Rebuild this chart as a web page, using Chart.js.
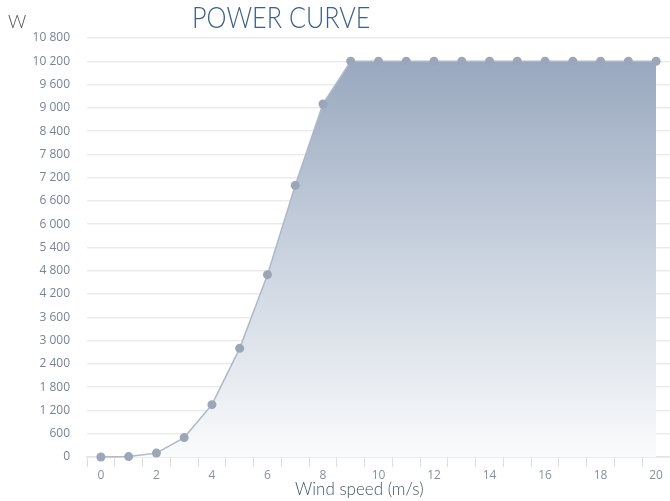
<!DOCTYPE html>
<html>
<head>
<meta charset="utf-8">
<script src="https://cdn.jsdelivr.net/npm/chart.js@4/dist/chart.umd.min.js"></script>
<style>
  html, body { margin: 0; padding: 0; background: #fff; }
  #wrap { position: relative; width: 670px; height: 501px; }
  #title {
    position: absolute; left: 192px; top: -1px;
    font-family: Lato, sans-serif; font-weight: 300; font-size: 29px;
    color: #3d5f86; transform: scaleX(0.87); transform-origin: left top;
    white-space: nowrap;
  }
  #unit {
    position: absolute; left: 8px; top: 10px;
    font-family: Lato, sans-serif; font-weight: 300; font-size: 18px; color: #555;
  }
  #xtitle {
    position: absolute; left: 295px; top: 478px;
    font-family: Lato, sans-serif; font-weight: 300; font-size: 17px; color: #44546c;
    white-space: nowrap;
  }
</style>
</head>
<body>
<div id="wrap">
  <canvas id="powerChart" width="670" height="501"></canvas>
  <div id="title">POWER CURVE</div>
  <div id="unit">W</div>
  <div id="xtitle">Wind speed (m/s)</div>
</div>
<script>
const windSpeeds = ['0','1','2','3','4','5','6','7','8','9','10','11','12','13','14','15','16','17','18','19','20'];
const powerValues = [0, 10, 100, 500, 1350, 2800, 4700, 7000, 9100, 10200, 10200, 10200, 10200, 10200, 10200, 10200, 10200, 10200, 10200, 10200, 10200];
const yMax = 10800;
const yStep = 600;

const fmt = v => v.toString().replace(/\B(?=(\d{3})+(?!\d))/g, ' ');

const ctx = document.getElementById('powerChart').getContext('2d');

const chart = new Chart(ctx, {
    type: 'line',
    data: {
        labels: windSpeeds,
        datasets: [{
            data: powerValues,
            borderColor: '#b0b8c8',
            borderWidth: 1.5,
            pointRadius: 4.5,
            pointBackgroundColor: '#9ba6b9',
            pointBorderWidth: 0,
            tension: 0,
            clip: false,
            fill: 'origin',
            backgroundColor: (c) => {
                const area = c.chart.chartArea;
                if (!area) return 'rgba(150,165,190,0.5)';
                const g = c.chart.ctx.createLinearGradient(0, area.top, 0, area.bottom);
                g.addColorStop(0, '#93a3bb');
                g.addColorStop(0.5, '#c8d1de');
                g.addColorStop(1, '#fafbfc');
                return g;
            }
        }]
    },
    options: {
        responsive: false,
        animation: false,
        layout: { autoPadding: false, padding: { top: 38, right: 0, left: 0, bottom: 0 } },
        plugins: {
            legend: { display: false },
            tooltip: { enabled: false }
        },
        scales: {
            y: {
                min: 0,
                max: yMax,
                afterFit: s => { s.width = 87; },
                border: { display: false },
                grid: { color: '#ebebeb', lineWidth: 1.5, drawTicks: false },
                ticks: {
                    stepSize: yStep,
                    padding: 17,
                    color: '#77839a',
                    font: { family: 'Open Sans', size: 12 },
                    callback: v => fmt(v)
                }
            },
            x: {
                offset: true,
                afterFit: s => { s.height = 44; s.paddingRight = 0; s.paddingLeft = 0; },
                border: { color: '#e4e4e4', width: 1.5 },
                grid: { offset: true, drawOnChartArea: false, drawTicks: true, tickLength: 10, color: '#dddddd' },
                ticks: {
                    autoSkip: false,
                    maxRotation: 0,
                    padding: 1,
                    color: '#8690a2',
                    font: { family: 'Open Sans', size: 12 },
                    callback: function (v, i) { return i % 2 === 0 ? this.getLabelForValue(v) : ''; }
                }
            }
        }
    }
});
</script>
</body>
</html>
